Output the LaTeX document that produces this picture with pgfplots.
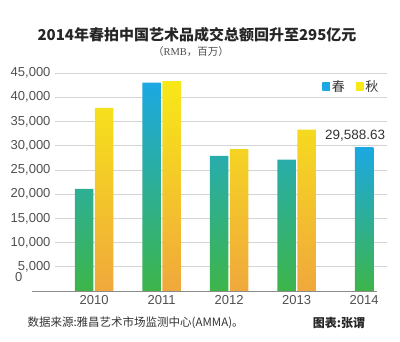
\documentclass[border=0pt]{standalone}
\usepackage{fontspec}
\usepackage{pgfplots}
\pgfplotsset{compat=1.18}
\setmainfont{Liberation Sans}
\newfontfamily\cjk{Noto Sans CJK SC}
\newfontfamily\serif{Liberation Serif}
\definecolor{springtop}{HTML}{1CA8E2}
\definecolor{springbot}{HTML}{3DB54A}
\definecolor{autumntop}{HTML}{F7E817}
\definecolor{autumnbot}{HTML}{F0A83C}
\definecolor{tickgray}{HTML}{505050}
\definecolor{gridgray}{HTML}{D4D4D4}
\begin{document}
\begin{tikzpicture}[x=1pt,y=1pt]
\useasboundingbox (0,0) rectangle (400,341);
\begin{axis}[
  at={(55pt,50pt)}, anchor=south west,
  scale only axis, width=332pt, height=218pt,
  xmin=-0.58, xmax=4.34, ymin=0, ymax=45000,
  ybar, bar width=18.5pt,
  axis line style={draw=none},
  major tick length=0pt,
  xtick={0,1,2,3,4}, xticklabels={2010,2011,2012,2013,2014},
  ytick={5000,10000,...,45000},
  extra y ticks={0},
  extra y tick style={yticklabel style={yshift=13.5pt, xshift=-28pt}, grid=none},
  ymajorgrids, grid style={gridgray, line width=0.6pt},
  scaled y ticks=false,
  /pgf/number format/.cd, 1000 sep={,}, assume math mode=true, /pgfplots/.cd,
  tick label style={font=\fontsize{13}{15}\selectfont, text=tickgray},
  yticklabel style={xshift=-1pt},
  xticklabel style={yshift=-1pt},
  legend style={at={(0.99,0.985)}, anchor=north east, draw=none, fill=none,
    font=\cjk\fontsize{13}{15}\selectfont, text=black!80},
  legend columns=2,
  /tikz/every even column/.append style={column sep=9pt},
  clip=false,
]
\addplot[bar shift=-10pt, draw=none, top color=springtop, bottom color=springbot,
  legend image code/.code={\fill[springtop, top color=springtop, bottom color=springtop] (0pt,-3.5pt) rectangle (7.5pt,4pt);}]
  coordinates {(0,21100) (1,43000) (2,27900) (3,27100)};
\addlegendentry{春}
\addplot[bar shift=10pt, draw=none, top color=autumntop, bottom color=autumnbot,
  legend image code/.code={\fill[autumntop, top color=autumntop, bottom color=autumntop] (0pt,-3.5pt) rectangle (7.5pt,4pt);}]
  coordinates {(0,37800) (1,43300) (2,29300) (3,33300)};
\addlegendentry{秋}
\addplot[bar shift=0pt, draw=none, top color=springtop, bottom color=springbot, forget plot]
  coordinates {(4,29588.63)};
\draw[black!45, line width=0.7pt] (rel axis cs:-0.07,0) -- (rel axis cs:0.97,0);
\node[anchor=south, font=\fontsize{13.5}{15}\selectfont, text=black!80, xshift=-9pt, yshift=3pt]
  at (axis cs:4,29588.63) {29,588.63};
\end{axis}
\node[font=\cjk\bfseries\fontsize{15}{17}\selectfont, text=black!85] at (197,306)
  {2014年春拍中国艺术品成交总额回升至295亿元};
\node[font=\fontsize{10.5}{12}\selectfont, text=black!70] at (191,289)
  {{\cjk （}{\serif RMB}{\cjk ，百万）}};
\node[anchor=west, font=\cjk\fontsize{11.5}{13}\selectfont, text=black!80] at (24,18)
  {数据来源:雅昌艺术市场监测中心(AMMA)。};
\node[font=\cjk\bfseries\fontsize{12}{13}\selectfont, text=black!85] at (339,18)
  {图表:张谓};
\end{tikzpicture}
\end{document}
